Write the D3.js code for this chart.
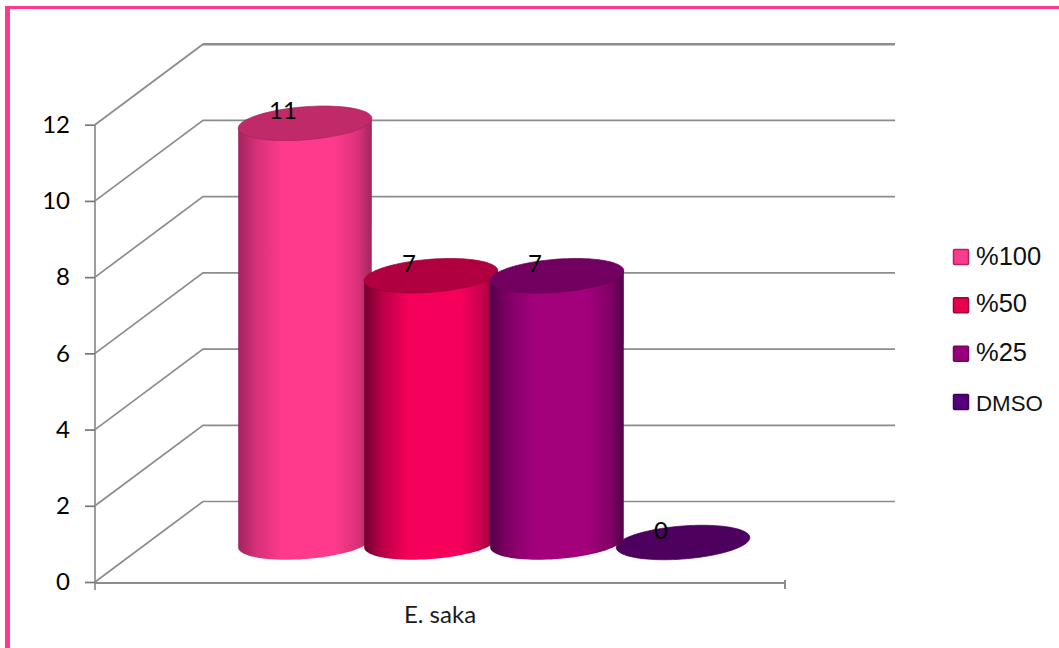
<!DOCTYPE html>
<html><head><meta charset="utf-8">
<script src="https://cdn.jsdelivr.net/npm/d3@7"></script>
<style>html,body{margin:0;padding:0;background:#fff;overflow:hidden}svg{display:block}</style>
</head><body><svg id="c" width="1059" height="648"></svg>
<script>
const seriesNames = ["%100","%50","%25","DMSO"];
const seriesValues = [11,7,7,0];
const categories = ["E. saka"];
const yTicks = [0,2,4,6,8,10,12];
const brightColors = ["#ff3a8c","#f5005a","#a3007c","#4d005e"];
const topColors = ["#c02a68","#b0003f","#720060","#4d005e"];
const darkColors = ["#a0245f","#70002f","#520048","#4d005e"];
const legendColors = ["#ff3a8c","#e8004f","#96007a","#52007a"];
const legendBorders = ["#a8285f","#a00038","#7a0066","#42005e"];
const drawOrder = [0,1,3,2];

const svg = d3.select("#c");
const y = d3.scaleLinear().domain([0,12]).range([582,124.7]);
const x = d3.scaleBand().domain(seriesNames).range([242,746]);
const depthX = 108, depthY = -80.5, backRight = 895, frontRight = 785, frontLeft = 95;
const midY = d3.scaleLinear().domain([0,12]).range([542.5,85.2]);
const grid = "#8c8c8c";

// frame
svg.append("rect").attr("x",5).attr("y",6).attr("width",1054).attr("height",3).attr("fill","#ff3a8c");
svg.append("rect").attr("x",5).attr("y",6).attr("width",5).attr("height",642).attr("fill","#ff3a8c");

// back wall gridlines and floor/side lines
const wall = svg.append("g").attr("fill","none").attr("stroke",grid);
wall.selectAll("path").data(yTicks).join("path")
  .attr("stroke-width",1.7)
  .attr("d",d=>d3.line()([[frontLeft,y(d)],[frontLeft+depthX,y(d)+depthY],[backRight,y(d)+depthY]]));
wall.append("path").attr("stroke-width",2.6).attr("d",d3.line()([[frontLeft+depthX,y(12)+depthY],[backRight,y(12)+depthY]]));

// axes
const yAxis = d3.axisLeft(y).tickValues(yTicks).tickSize(10).tickPadding(15).tickFormat(d3.format("d"));
const ga = svg.append("g").attr("transform",`translate(${frontLeft},0)`).call(yAxis);
ga.selectAll("path.domain").attr("d",`M0,${y(12)}V${y(0)+8}`).attr("stroke",grid).attr("stroke-width",1.7);
ga.selectAll(".tick line").attr("stroke","#777").attr("stroke-width",1.7);
ga.selectAll("text").attr("font-family","Lato, sans-serif").attr("font-size",24).attr("fill","#000");

const xCat = d3.scaleBand().domain(categories).range([frontLeft,frontRight]);
const gx = svg.append("g").attr("transform",`translate(0,${y(0)+1})`).call(d3.axisBottom(xCat).tickSize(0).tickPadding(23));
gx.select("path.domain").attr("d",`M${frontLeft},0H${frontRight}`).attr("stroke",grid).attr("stroke-width",2);
gx.append("path").attr("d",`M${frontRight},-3V6`).attr("stroke",grid).attr("stroke-width",2);
gx.selectAll("text").attr("font-family","Lato, sans-serif").attr("font-size",24).attr("fill","#1a1a1a");

// cylinders
const a = 67, b = 16.5, tilt = -4.5*Math.PI/180;
const extX = Math.hypot(a*Math.cos(tilt), b*Math.sin(tilt));
const extDY = (a*a-b*b)*Math.sin(tilt)*Math.cos(tilt)/extX;
const ang = d3.range(0,361,4).map(d=>d*Math.PI/180);
function ept(cx,cy,t){return [cx+a*Math.cos(t)*Math.cos(tilt)-b*Math.sin(t)*Math.sin(tilt),
                             cy+a*Math.cos(t)*Math.sin(tilt)+b*Math.sin(t)*Math.cos(tilt)];}
const line = d3.line();
const defs = svg.append("defs");
seriesNames.forEach((n,i)=>{
  const g = defs.append("linearGradient").attr("id","g"+i);
  const mix = d3.interpolateRgb(darkColors[i],brightColors[i]);
  [[0,darkColors[i]],[0.13,mix(0.55)],[0.33,brightColors[i]],[0.72,brightColors[i]],[0.9,mix(0.6)],[1,darkColors[i]]]
   .forEach(s=>g.append("stop").attr("offset",s[0]).attr("stop-color",s[1]));
});
const marks = svg.append("g");
drawOrder.forEach(i=>{
  const cx = x(seriesNames[i])+x.bandwidth()/2, v = seriesValues[i];
  const c0 = midY(0), c1 = midY(v);
  if(v>0){
    const lo = ang.filter(t=>{const p=ept(0,0,t);return p[1]-extDY*p[0]/extX>=0;}).map(t=>ept(cx,c0,t)).sort((p,q)=>q[0]-p[0]);
    const pts = [[cx+extX,c1+extDY],...lo,[cx-extX,c1-extDY]];
    marks.append("path").attr("d",line(pts)+"Z").attr("fill",`url(#g${i})`);
  }
  marks.append("path").attr("d",line(ang.map(t=>ept(cx,c1,t)))+"Z").attr("fill",topColors[i])
    .attr("stroke",d3.color(topColors[i]).darker(0.4)).attr("stroke-width",0.7);
});
// data labels
const labelX = d3.scaleBand().domain(seriesNames).range([220,724]);
svg.append("g").selectAll("text").data(seriesValues).join("text")
  .attr("x",(d,i)=>labelX(seriesNames[i])+labelX.bandwidth()/2)
  .attr("y",d=>midY(d)-4).attr("text-anchor","middle")
  .attr("font-family","Lato, sans-serif").attr("font-size",24).attr("fill","#000").text(d=>d);

// legend
const ly = d3.scalePoint().domain(seriesNames).range([257,402]);
const lg = svg.append("g").selectAll("g").data(seriesNames).join("g").attr("transform",d=>`translate(0,${ly(d)})`);
lg.append("rect").attr("x",953.5).attr("y",-7.5).attr("width",15).attr("height",15).attr("rx",1)
  .attr("fill",(d,i)=>legendColors[i]).attr("stroke",(d,i)=>legendBorders[i]).attr("stroke-width",1.5);
lg.append("text").attr("x",976).attr("y",(d,i)=>[8,7,7,9][i]).attr("font-family","Liberation Sans, Arial, sans-serif")
  .attr("font-size",(d,i)=>i===3?22.3:25.5).attr("fill","#111").text(d=>d);
</script></body></html>
